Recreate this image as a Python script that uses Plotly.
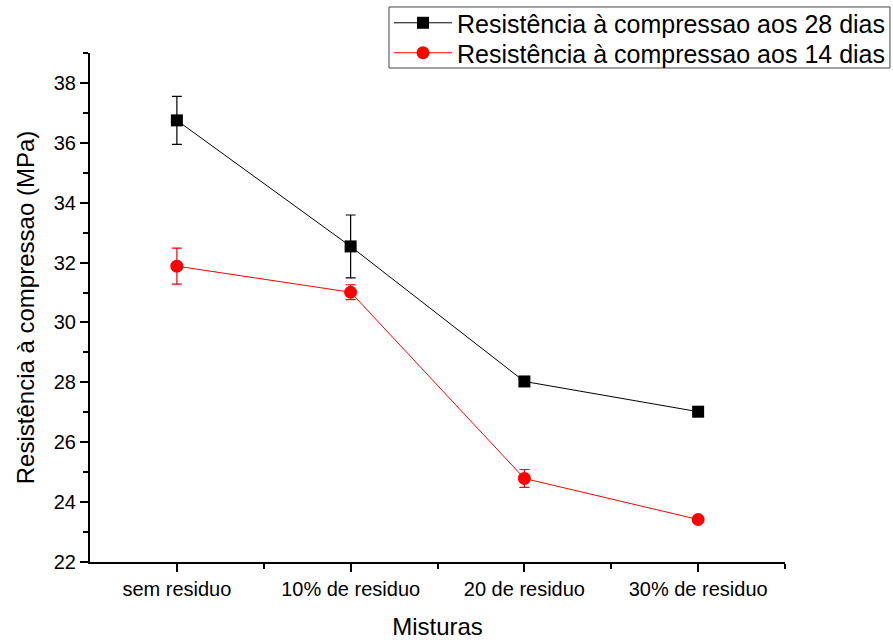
import plotly.graph_objects as go

categories = ["sem residuo", "10% de residuo", "20 de residuo", "30% de residuo"]
res_28 = [36.75, 32.54, 28.03, 27.02]
err_28 = [0.8, 1.05, 0.12, 0.15]
res_14 = [31.88, 31.01, 24.79, 23.42]
err_14 = [0.6, 0.25, 0.3, 0.06]
series_names = ["Resistência à compressao aos 28 dias", "Resistência à compressao aos 14 dias"]

FONT = "Arial, Liberation Sans, sans-serif"
xpos = list(range(len(categories)))

fig = go.Figure()
fig.add_trace(go.Scatter(
    x=xpos, y=res_28, name=series_names[0], mode="lines+markers", legend="legend",
    showlegend=True,
    line=dict(color="black", width=1),
    marker=dict(symbol="square", size=12, color="black"),
    error_y=dict(type="data", array=err_28, color="black", thickness=1.2, width=5),
))
fig.add_trace(go.Scatter(
    x=xpos, y=res_14, name=series_names[1], mode="lines+markers", legend="legend2",
    showlegend=True,
    line=dict(color="red", width=1),
    marker=dict(symbol="circle", size=13, color="red"),
    error_y=dict(type="data", array=err_14, color="red", thickness=1.2, width=5),
))

leg_common = dict(xanchor="left", yanchor="middle", borderwidth=0, visible=True,
                  bgcolor="rgba(0,0,0,0)", font=dict(size=25, family=FONT), itemwidth=58)

fig.update_layout(
    width=893, height=642,
    showlegend=True,
    margin=dict(l=90, r=108, t=53, b=80, autoexpand=False),
    plot_bgcolor="white", paper_bgcolor="white",
    font=dict(family=FONT, color="black"),
    legend=dict(x=0.4302, y=1.0589, **leg_common),
    legend2=dict(x=0.4302, y=1.0000, **leg_common),
    shapes=[dict(type="rect", xref="paper", yref="paper",
                 x0=0.4302, x1=1.151, y0=0.9705, y1=1.0904,
                 line=dict(color="#444", width=1), fillcolor="rgba(0,0,0,0)", layer="below")],
    xaxis=dict(
        range=[-0.5, 3.5], tickmode="array", tickvals=xpos, ticktext=categories,
        automargin=False,
        showgrid=False, zeroline=False, showline=True, linecolor="black", linewidth=2,
        ticks="outside", ticklen=8, tickwidth=2, tickcolor="black",
        tickfont=dict(size=20, family=FONT),
        minor=dict(tickvals=[0.5, 1.5, 2.5, 3.5], ticks="outside", ticklen=5, tickwidth=2, tickcolor="black"),
        title=dict(text="Misturas", font=dict(size=24, family=FONT), standoff=19),
    ),
    yaxis=dict(
        range=[22, 39], tickmode="array", tickvals=[22, 24, 26, 28, 30, 32, 34, 36, 38],
        automargin=False,
        showgrid=False, zeroline=False, showline=True, linecolor="black", linewidth=2,
        ticks="outside", ticklen=8, tickwidth=2, tickcolor="black",
        tickfont=dict(size=20, family=FONT),
        minor=dict(tickvals=[23, 25, 27, 29, 31, 33, 35, 37, 39], ticks="outside", ticklen=5, tickwidth=2, tickcolor="black"),
        title=dict(text="Resistência à compressao (MPa)", font=dict(size=24, family=FONT), standoff=12),
    ),
)

fig.write_html("out.html", config={"displayModeBar": False},
               post_script="document.body.style.margin='0';")
